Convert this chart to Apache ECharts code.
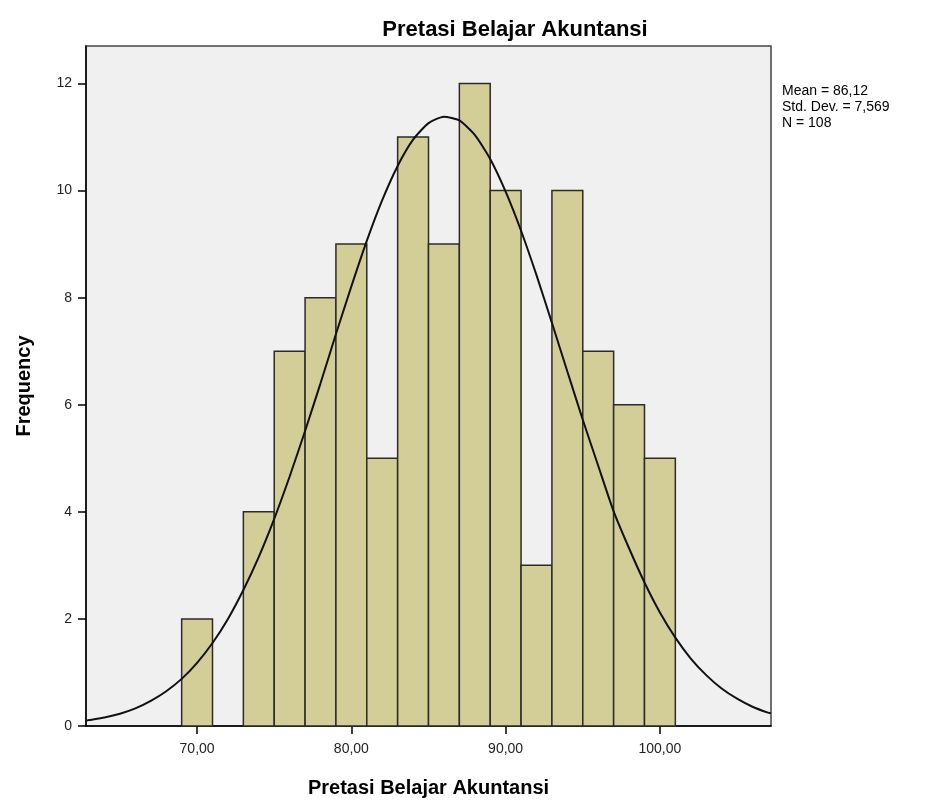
<!DOCTYPE html>
<html>
<head>
<meta charset="utf-8">
<script src="https://cdn.jsdelivr.net/npm/echarts@6/dist/echarts.min.js"></script>
<style>
  html, body { margin: 0; padding: 0; background: #fff; }
  #chart { width: 925px; height: 803px; }
</style>
</head>
<body>
<div id="chart"></div>
<script>
// histogram bins (start, end) and counts
const binStart = [69, 73, 75, 77, 79, 81, 83, 85, 87, 89, 91, 93, 95, 97, 99]
const binEnd = [71, 75, 77, 79, 81, 83, 85, 87, 89, 91, 93, 95, 97, 99, 101]
const counts = [2, 4, 7, 8, 9, 5, 11, 9, 12, 10, 3, 10, 7, 6, 5]

// normal curve
const curveX = [62.8, 63, 64, 65, 66, 67, 68, 69, 70, 71, 72, 73, 74, 75, 76, 77, 78, 79, 80, 81, 82, 83, 84, 85, 86,
  87, 88, 89, 90, 91, 92, 93, 94, 95, 96, 97, 98, 99, 100, 101, 102, 103, 104, 105, 106, 107, 107.2]
const curveY = [0.10, 0.11, 0.16, 0.23, 0.33, 0.47, 0.65, 0.88, 1.18, 1.55, 2.0, 2.54, 3.16, 3.87, 4.66, 5.51, 6.4, 7.32, 8.21, 9.06, 9.82, 10.46, 10.95, 11.26, 11.38,
  11.31, 11.04, 10.59, 9.98, 9.25, 8.42, 7.53, 6.62, 5.72, 4.86, 4.01, 3.32, 2.68, 2.12, 1.65, 1.26, 0.95, 0.70, 0.51, 0.36, 0.25, 0.24]

const xTicks = [70, 80, 90, 100]
const yTicks = [0, 2, 4, 6, 8, 10, 12]

const statsLines = ['Mean = 86,12', 'Std. Dev. = 7,569', 'N = 108']

let chart = echarts.init(document.getElementById('chart'))

let barData = []
for (let i = 0; i < counts.length; i++) {
  barData.push([binStart[i], binEnd[i], counts[i]])
}
let lineData = []
for (let i = 0; i < curveX.length; i++) {
  lineData.push([curveX[i], curveY[i]])
}

const font = '"Liberation Sans", Arial, sans-serif'

let option = {
  animation: false,
  title: {
    text: 'Pretasi Belajar Akuntansi',
    left: 510,
    top: 14,
    textAlign: 'center',
    textStyle: {fontFamily: font, fontSize: 22, fontWeight: 'bold', color: '#000'}
  },
  graphic: [{
    type: 'text',
    left: 782,
    top: 83,
    style: {
      text: statsLines.join('\n'),
      fontFamily: font,
      fontSize: 14,
      lineHeight: 16,
      fill: '#000'
    }
  }],
  grid: {
    left: 86,
    right: 154,
    top: 46,
    bottom: 77,
    show: true,
    backgroundColor: '#F0F0F0',
    borderColor: '#444',
    borderWidth: 1.5
  },
  xAxis: {
    type: 'value',
    min: 62.8,
    max: 107.2,
    name: 'Pretasi Belajar Akuntansi',
    nameLocation: 'middle',
    nameGap: 52,
    nameTextStyle: {fontFamily: font, fontSize: 20, fontWeight: 'bold', color: '#000'},
    axisLine: {lineStyle: {color: '#000', width: 1.5}},
    axisTick: {show: true, length: 8, customValues: xTicks, lineStyle: {color: '#000', width: 1.5}},
    axisLabel: {
      customValues: xTicks,
      fontFamily: font,
      fontSize: 14,
      color: '#222',
      margin: 16,
      formatter: v => v.toFixed(2).replace('.', ',')
    },
    splitLine: {show: false}
  },
  yAxis: {
    type: 'value',
    min: 0,
    max: 12.7,
    name: 'Frequency',
    nameLocation: 'middle',
    nameGap: 52,
    nameTextStyle: {fontFamily: font, fontSize: 20, fontWeight: 'bold', color: '#000'},
    axisLine: {show: true, lineStyle: {color: '#000', width: 1.5}},
    axisTick: {show: true, length: 8, customValues: yTicks, lineStyle: {color: '#000', width: 1.5}},
    axisLabel: {customValues: yTicks, fontFamily: font, fontSize: 14, color: '#222', margin: 14},
    splitLine: {show: false}
  },
  series: [
    {
      type: 'custom',
      data: barData,
      encode: {x: [0, 1], y: 2},
      renderItem: (params, api) => {
        let p0 = api.coord([api.value(0), api.value(2)])
        let p1 = api.coord([api.value(1), 0])
        return {
          type: 'rect',
          shape: {x: p0[0], y: p0[1], width: p1[0] - p0[0], height: p1[1] - p0[1]},
          style: {fill: '#D3CE97', stroke: '#2b2b2b', lineWidth: 1.5}
        }
      }
    },
    {
      type: 'line',
      data: lineData,
      smooth: 0.2,
      showSymbol: false,
      lineStyle: {color: '#111', width: 2}
    }
  ]
}
chart.setOption(option)
</script>
</body>
</html>
